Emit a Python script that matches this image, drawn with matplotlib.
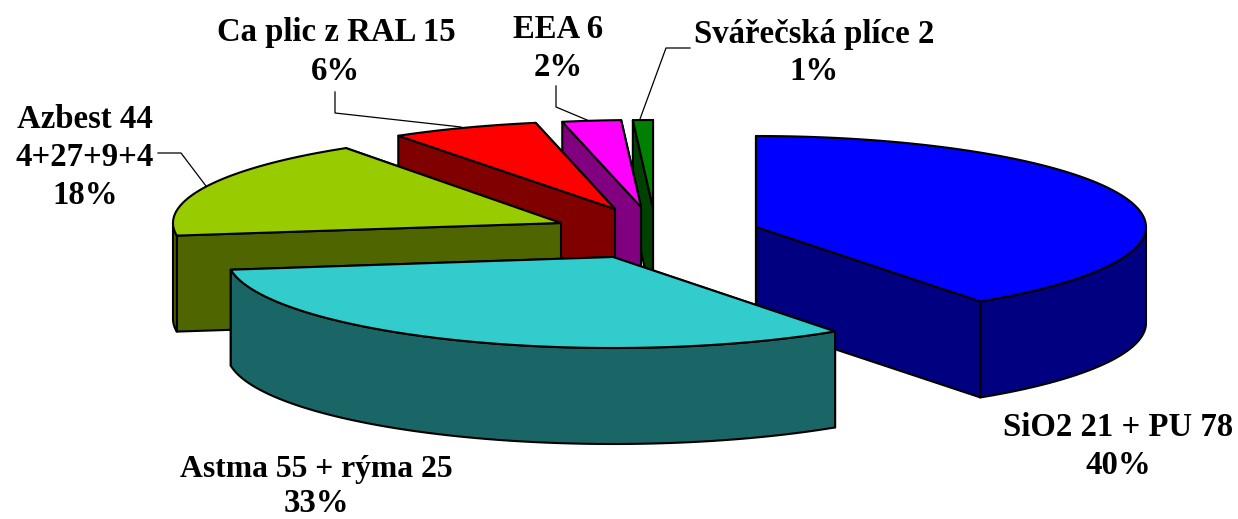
import numpy as np
import matplotlib
matplotlib.use('Agg')
import matplotlib.pyplot as plt

# pie values and labels
categories = ['SiO2 21 + PU 78', 'Astma 55 + rýma 25', 'Azbest 44\n4+27+9+4',
              'Ca plic z RAL 15', 'EEA 6', 'Svářečská plíce 2']
values = [99, 80, 44, 15, 6, 2]
percents = ['40%', '33%', '18%', '6%', '2%', '1%']

top_colors = ['#0000FF', '#33CCCC', '#99CC00', '#FF0000', '#FF00FF', '#008000']
side_colors = ['#000080', '#1A6666', '#4F6600', '#800000', '#800080', '#004000']

# exploded slice centres and ellipse radii, in pixels
centres = [(756, 227), (613, 257), (561, 223), (615, 209), (641, 207), (653, 208)]
radii = [(390, 91), (386, 91), (388, 90), (391, 88), (388, 87), (395, 88)]
depth = 96

label_pos = [(1118, 427), (316, 470), (85, 138.5), (336, 33), (558, 30), (814, 34)]
pct_pos = [(1118, 466), (316, 504), (85, 195), (336, 72), (558, 67), (814, 71)]
label_sizes = [23.6, 22.8, 23.6, 23.6, 23.6, 23.6]
leaders = [([335, 335, 461], [92, 113, 127]),
           ([556, 556, 587], [86, 107, 120]),
           ([690, 666, 640], [48, 48, 119]),
           ([158, 181, 206], [153, 153, 186])]

fig = plt.figure(figsize=(12.38, 5.19), dpi=100)
ax = fig.add_axes([0, 0, 1, 1])
ax.set_xlim(0, 1238)
ax.set_ylim(519, 0)
ax.axis('off')

edges = np.cumsum([0] + values) / sum(values) * 360


def rim(i, a, b):
    t = np.radians(np.linspace(a, b, 120))
    cx, cy = centres[i]
    rx, ry = radii[i]
    return cx + rx * np.sin(t), cy - ry * np.cos(t)


def draw_slice(i, z):
    a, b = edges[i], edges[i + 1]
    cx, cy = centres[i]
    style = dict(edgecolor='black', linewidth=1.5, joinstyle='round', zorder=z)
    # cut faces, the far one first
    for ang in (b, a):
        x, y = rim(i, ang, ang)
        ax.fill([cx, x[0], x[0], cx], [cy, y[0], y[0] + depth, cy + depth],
                facecolor=side_colors[i], **style)
    # outer wall, only the part facing the viewer
    lo, hi = max(a, 90), min(b, 270)
    if lo < hi:
        x, y = rim(i, lo, hi)
        ax.fill(np.r_[x, x[::-1]], np.r_[y, y[::-1] + depth],
                facecolor=side_colors[i], **style)
    x, y = rim(i, a, b)
    ax.fill(np.r_[cx, x], np.r_[cy, y], facecolor=top_colors[i], **style)


# back to front
for z, i in enumerate([5, 4, 3, 2, 0, 1]):
    draw_slice(i, z + 2)

for lx, ly in leaders:
    ax.plot(lx, ly, color='black', lw=0.9, zorder=1)

font = dict(family='Liberation Serif', fontweight='bold',
            ha='center', va='center', color='black', linespacing=1.26)
for name, pct, p1, p2, size in zip(categories, percents, label_pos, pct_pos, label_sizes):
    ax.text(p1[0], p1[1], name, fontsize=size, **font)
    ax.text(p2[0], p2[1], pct, fontsize=23.6, **font)

fig.savefig('out.png', dpi=100, facecolor='white')
